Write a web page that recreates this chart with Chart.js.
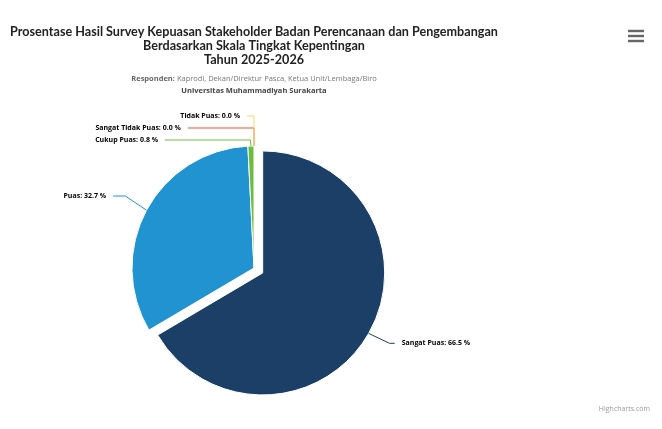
<!DOCTYPE html>
<html>
<head>
<meta charset="utf-8">
<script src="https://cdn.jsdelivr.net/npm/chart.js@4.4.1/dist/chart.umd.min.js"></script>
<style>
  html, body { margin: 0; padding: 0; background: #fff; }
  #wrap { width: 662px; height: 429px; position: relative; }
</style>
</head>
<body>
<div id="wrap"><canvas id="pieChart"></canvas></div>
<script>
// data
const categories = ['Sangat Puas', 'Puas', 'Cukup Puas', 'Sangat Tidak Puas', 'Tidak Puas'];
const percentages = [66.5, 32.7, 0.8, 0.0, 0.0];
const sliceColors = ['#1b3f66', '#2093d0', '#6cbd3d', '#e5572f', '#f7d96a'];
const slicedOut = [10, 0, 0, 0, 0];

const titleLines = [
  'Prosentase Hasil Survey Kepuasan Stakeholder Badan Perencanaan dan Pengembangan',
  'Berdasarkan Skala Tingkat Kepentingan',
  'Tahun 2025-2026'
];
const respondenLabel = 'Responden:';
const respondenText = ' Kaprodi, Dekan/Direktur Pasca, Ketua Unit/Lembaga/Biro';
const institution = 'Universitas Muhammadiyah Surakarta';
const creditText = 'Highcharts.com';

const FONT = '"Open Sans", "Noto Sans", sans-serif';
const TITLE_FONT = 'Lato, "Open Sans", sans-serif';

// move sliced points outward without growing them (highcharts style)
const slicer = {
  id: 'slicer',
  beforeDatasetsDraw(chart) {
    chart.getDatasetMeta(0).data.forEach((arc, i) => {
      if (arc._sliced) return;
      const orig = arc.draw;
      arc.draw = function (ctx) {
        const mid = (this.startAngle + this.endAngle) / 2;
        ctx.save();
        ctx.translate(Math.cos(mid) * slicedOut[i], Math.sin(mid) * slicedOut[i]);
        orig.call(this, ctx);
        ctx.restore();
      };
      arc._sliced = true;
    });
  }
};

// subtitle, menu button and credits
const decorations = {
  id: 'decorations',
  afterDraw(chart) {
    const ctx = chart.ctx;
    const area = chart.chartArea;
    const mid = (area.left + area.right) / 2;
    ctx.save();
    ctx.textBaseline = 'middle';

    // subtitle line 1, mixed weight
    ctx.font = 'bold 7.5px ' + FONT;
    const w1 = ctx.measureText(respondenLabel).width;
    ctx.font = '7.5px ' + FONT;
    const w2 = ctx.measureText(respondenText).width;
    const x = mid - (w1 + w2) / 2;
    ctx.textAlign = 'left';
    ctx.fillStyle = '#666';
    ctx.font = 'bold 7.5px ' + FONT;
    ctx.fillText(respondenLabel, x, area.top - 37);
    ctx.fillStyle = '#777';
    ctx.font = '7.5px ' + FONT;
    ctx.fillText(respondenText, x + w1, area.top - 37);

    ctx.textAlign = 'center';
    ctx.fillStyle = '#444';
    ctx.font = 'bold 7.5px ' + FONT;
    ctx.fillText(institution, mid, area.top - 25);

    // credits
    ctx.textAlign = 'right';
    ctx.fillStyle = '#999';
    ctx.font = '7px ' + FONT;
    ctx.fillText(creditText, 650, 409);

    // hamburger menu
    ctx.fillStyle = '#666';
    [31, 36, 41].forEach(y => ctx.fillRect(628, y - 1.2, 16, 2.4));
    ctx.restore();
  }
};

// data labels with crooked connectors
const pieLabels = {
  id: 'pieLabels',
  afterDatasetsDraw(chart) {
    const ctx = chart.ctx;
    const meta = chart.getDatasetMeta(0);
    const dist = 30;
    const crook = 24;
    const items = meta.data.map((arc, i) => {
      const p = arc.getProps(['x', 'y', 'startAngle', 'endAngle', 'outerRadius']);
      const mid = (p.startAngle + p.endAngle) / 2;
      const fromTop = mid + Math.PI / 2;
      const t = slicedOut[i];
      const tx = Math.cos(mid) * t, ty = Math.sin(mid) * t;
      const ex = p.x + tx + Math.cos(mid) * p.outerRadius;
      const ey = p.y + ty + Math.sin(mid) * p.outerRadius;
      const R = p.outerRadius + dist;
      return {
        i, fromTop, tx, ex, ey, cx: p.x, cy: p.y, R,
        bx: ex + Math.cos(mid) * crook,
        ny: p.y + Math.sin(mid) * R,
        right: fromTop < Math.PI
      };
    });

    const place = (list) => {
      let last = -Infinity;
      list.forEach(it => {
        it.ly = Math.max(it.ny, last + 12);
        last = it.ly;
      });
    };
    const left = items.filter(it => !it.right)
      .sort((a, b) => (b.fromTop - a.fromTop) || (b.i - a.i));
    const right = items.filter(it => it.right)
      .sort((a, b) => (a.fromTop - b.fromTop) || (a.i - b.i));
    place(left);
    place(right);

    ctx.save();
    ctx.lineWidth = 1;
    ctx.textBaseline = 'middle';
    ctx.font = 'bold 7px ' + FONT;
    ctx.fillStyle = '#000';
    items.forEach(it => {
      const dy = it.ly - it.cy;
      const span = Math.sqrt(Math.max(0, it.R * it.R - dy * dy));
      const text = categories[it.i] + ': ' + percentages[it.i].toFixed(1) + ' %';
      ctx.strokeStyle = sliceColors[it.i];
      ctx.beginPath();
      if (it.right) {
        const end = it.cx + span + it.tx;
        const bx = Math.min(it.bx, end);
        ctx.moveTo(end, it.ly);
        ctx.lineTo(bx, it.ly);
        ctx.lineTo(it.ex, it.ey);
        ctx.stroke();
        ctx.textAlign = 'left';
        ctx.fillText(text, end + 7, it.ly);
      } else {
        const start = it.cx - span + it.tx - 7;
        const bx = Math.max(it.bx, start);
        ctx.moveTo(start, it.ly);
        ctx.lineTo(bx, it.ly);
        ctx.lineTo(it.ex, it.ey);
        ctx.stroke();
        ctx.textAlign = 'right';
        ctx.fillText(text, start - 7, it.ly);
      }
    });
    ctx.restore();
  }
};

new Chart(document.getElementById('pieChart'), {
  type: 'pie',
  data: {
    labels: categories,
    datasets: [{
      data: percentages,
      backgroundColor: sliceColors,
      borderColor: '#ffffff',
      borderWidth: 1,
      hoverOffset: 0
    }]
  },
  options: {
    responsive: true,
    maintainAspectRatio: false,
    animation: false,
    radius: 122,
    layout: { padding: { left: 0, right: 154, top: 0, bottom: 9 } },
    plugins: {
      legend: { display: false },
      tooltip: { enabled: false },
      title: {
        display: true,
        fullSize: false,
        text: titleLines,
        color: '#222',
        font: { family: TITLE_FONT, size: 12.6, weight: 'bold', lineHeight: 1.1 },
        padding: { top: 25, bottom: 49.4 }
      }
    }
  },
  plugins: [slicer, pieLabels, decorations]
});
</script>
</body>
</html>
